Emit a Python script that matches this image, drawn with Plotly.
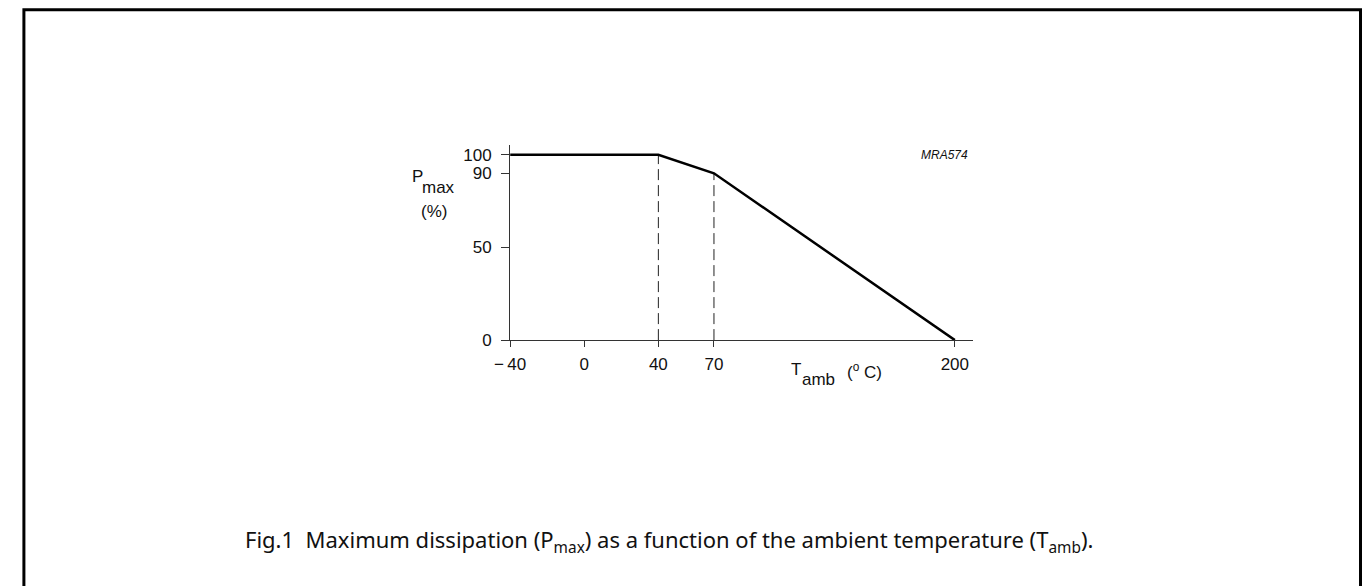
import plotly.graph_objects as go

# Derating curve: maximum dissipation versus ambient temperature
t_amb = [-40, 40, 70, 200]
p_max = [100, 100, 90, 0]

# Dashed guide lines dropped from the two break points
guide_t = [40, 70]
guide_p = [100, 90]

x_tick_vals = [-40, 0, 40, 70, 200]
x_tick_text = ["\u2212\u200940", "0", "40", "70", "200"]
y_tick_vals = [0, 50, 90, 100]
y_tick_text = ["0", "50", "90", "100"]

W, H = 1362, 586


def px(x):
    return x / W


def py(y):
    return 1 - y / H


SANS = "Liberation Sans, Arial, sans-serif"
AXIS_FONT = dict(family=SANS, size=17, color="#111")


def label(text, x, y, anchor="left", size=17, family=SANS):
    return dict(text=text, xref="paper", yref="paper",
                x=px(x), y=py(y), xanchor=anchor, yanchor="middle",
                showarrow=False, font=dict(family=family, size=size, color="#111"))


fig = go.Figure()

for t, p in zip(guide_t, guide_p):
    fig.add_trace(go.Scatter(
        x=[t, t], y=[0, p], mode="lines",
        line=dict(color="#222", width=1, dash="11px,5px"),
        hoverinfo="skip", showlegend=False,
    ))

fig.add_trace(go.Scatter(
    x=t_amb, y=p_max, mode="lines",
    line=dict(color="#000", width=2.5),
    showlegend=False,
))

fig.update_layout(
    width=W, height=H, autosize=False,
    margin=dict(l=0, r=0, t=0, b=0),
    paper_bgcolor="white", plot_bgcolor="white",
    xaxis=dict(
        domain=[px(500), px(968.75)], range=[-40, 210],
        tickmode="array", tickvals=x_tick_vals, ticktext=x_tick_text,
        ticks="outside", ticklen=6, tickwidth=1, tickcolor="#333",
        ticklabelstandoff=3,
        showline=True, linecolor="#333", linewidth=1,
        showgrid=False, zeroline=False, tickfont=AXIS_FONT,
        fixedrange=True,
    ),
    yaxis=dict(
        domain=[py(346), py(148)], range=[0, 105],
        tickmode="array", tickvals=y_tick_vals, ticktext=y_tick_text,
        ticks="outside", ticklen=8, tickwidth=1, tickcolor="#333",
        ticklabelstandoff=6,
        showline=True, linecolor="#333", linewidth=1,
        showgrid=False, zeroline=False, tickfont=AXIS_FONT,
        fixedrange=True,
    ),
    shapes=[
        dict(type="rect", xref="paper", yref="paper",
             x0=px(8), x1=px(1360.5), y0=-0.05, y1=py(10),
             line=dict(color="black", width=3), fillcolor="rgba(0,0,0,0)"),
    ],
    annotations=[
        # y-axis title: P with lowered "max", then the unit below
        label("P", 399, 180),
        label("max", 409, 191),
        label("(%)", 423, 215, anchor="center"),
        # x-axis title: T with lowered "amb", then the unit
        label("T", 782, 376),
        label("amb", 793, 386),
        label("(<sup>o</sup> C)", 839, 377),
        label("<i>MRA574</i>", 965, 158, anchor="right", size=12),
        label("Fig.1  Maximum dissipation (P<sub>max</sub>) as a function of the "
              "ambient temperature (T<sub>amb</sub>).", 230, 550,
              size=22, family="Noto Sans, Open Sans, sans-serif"),
    ],
)

fig.write_html("out.html")
